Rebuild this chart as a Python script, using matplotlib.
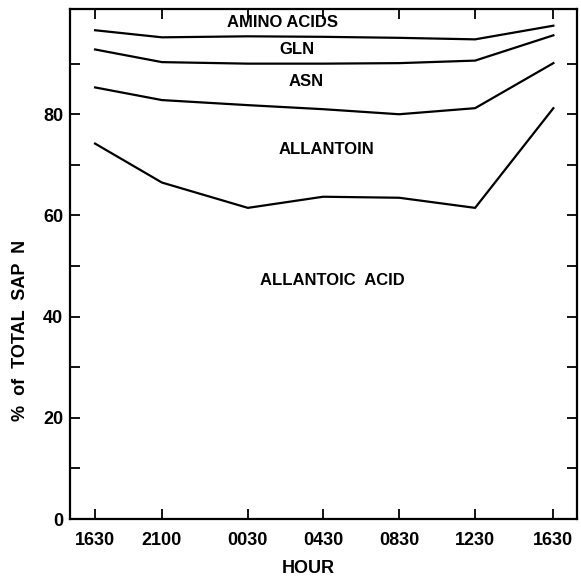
import matplotlib.pyplot as plt
import numpy as np

# hour labels and their positions along the axis (uneven spacing)
hours = ['1630', '2100', '0030', '0430', '0830', '1230', '1630']
hour_pos = [0, 0.88, 2.01, 3.0, 4.0, 5.0, 6.03]

# cumulative % of total sap N (upper boundary of each fraction)
allantoic_top = [74.2, 66.5, 61.5, 63.7, 63.5, 61.5, 81.2]
allantoin_top = [85.3, 82.8, 81.8, 81.0, 80.0, 81.2, 90.1]
asn_top = [92.8, 90.3, 90.0, 90.0, 90.1, 90.6, 95.6]
gln_top = [96.6, 95.2, 95.4, 95.3, 95.1, 94.8, 97.5]

labels = ['AMINO ACIDS', 'GLN', 'ASN', 'ALLANTOIN', 'ALLANTOIC  ACID']
label_x = [2.46, 2.65, 2.78, 3.05, 3.12]
label_y = [98.1, 92.8, 86.4, 73.1, 47.2]

plt.rcParams['font.family'] = ['Liberation Sans', 'DejaVu Sans']
plt.rcParams['font.weight'] = 'bold'

fig = plt.figure(figsize=(5.81, 5.80), dpi=100)
ax = fig.add_axes([0.1205, 0.105, 0.8725, 0.8795])

for s in [allantoic_top, allantoin_top, asn_top, gln_top]:
	ax.plot(hour_pos, s, color='black', lw=1.6)

for t, x, y in zip(labels, label_x, label_y):
	ax.text(x, y, t, ha='center', va='center', fontsize=12, fontweight='bold')

ax.set_xlim(-0.33, 6.34)
ax.set_ylim(0, 100.8)

ax.set_xticks(hour_pos)
ax.set_xticklabels(hours)
ax.set_yticks([0, 20, 40, 60, 80])
ax.set_yticks(np.arange(10, 100, 10), minor=True)

# all ticks point inward, right side carries every 10 %
ax.tick_params(axis='both', which='both', direction='in', length=7, width=1.3,
			   labelsize=13, top=True, right=True)
ax.tick_params(axis='y', pad=5)
ax.tick_params(axis='x', pad=9)

for sp in ax.spines.values():
	sp.set_linewidth(1.6)

ax.set_xlabel('HOUR', fontsize=13, fontweight='bold')
ax.xaxis.set_label_coords(0.47, -0.081)
ax.set_ylabel('%  of  TOTAL  SAP  N', fontsize=13, fontweight='bold')
ax.yaxis.set_label_coords(-0.08, 0.369)

plt.savefig('out.png', dpi=100)
